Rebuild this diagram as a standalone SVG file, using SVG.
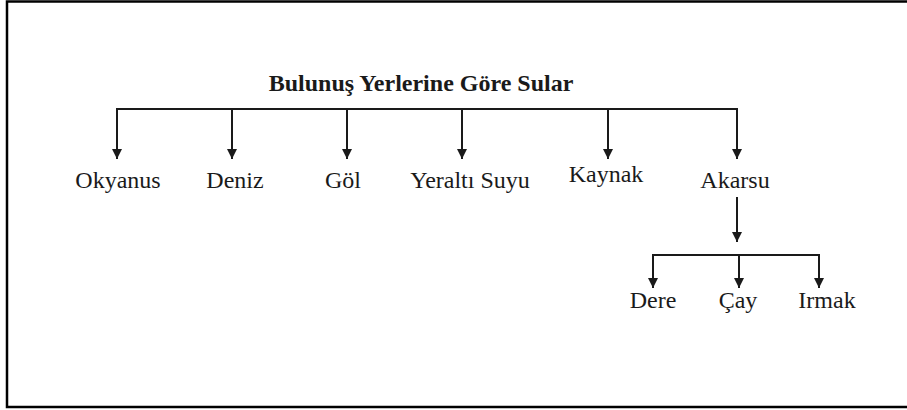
<svg xmlns="http://www.w3.org/2000/svg" width="907" height="410" viewBox="0 0 907 410">
<defs>
<marker id="ah" viewBox="0 0 10 10" refX="10" refY="5" markerWidth="10" markerHeight="10" markerUnits="userSpaceOnUse" orient="auto">
<path d="M0,0 L10,5 L0,10 Z" fill="#1a1a1a"/>
</marker>
<style>
.t{font-family:"Liberation Serif","Times New Roman",serif;font-size:24px;fill:#1a1a1a;text-anchor:middle}
.title{font-weight:bold}
.c{fill:none;stroke:#1a1a1a;stroke-width:2}
.a{marker-end:url(#ah)}
</style>
</defs>
<rect width="907" height="410" fill="#fff"/>
<rect x="7" y="1.5" width="920" height="405.5" fill="none" stroke="#000" stroke-width="2.5"/>
<g id="title"><text class="t title" x="421" y="91">Bulunuş Yerlerine Göre Sular</text></g>
<g id="connectors">
<path class="c" d="M117,159 V109 H737 V159"/>
<path class="c a" d="M117,109 V159"/>
<path class="c a" d="M232,109 V159"/>
<path class="c a" d="M347,109 V159"/>
<path class="c a" d="M462,109 V159"/>
<path class="c a" d="M608,109 V159"/>
<path class="c a" d="M737,109 V159"/>
<path class="c a" d="M737,197 V242"/>
<path class="c" d="M653,288 V255 H819 V288"/>
<path class="c a" d="M653,255 V288"/>
<path class="c a" d="M739,255 V288"/>
<path class="c a" d="M819,255 V288"/>
</g>
<g id="okyanus"><text class="t" x="118" y="188">Okyanus</text></g>
<g id="deniz"><text class="t" x="235" y="188">Deniz</text></g>
<g id="gol"><text class="t" x="343" y="188">Göl</text></g>
<g id="yeralti"><text class="t" x="470" y="188">Yeraltı Suyu</text></g>
<g id="kaynak"><text class="t" x="606" y="182">Kaynak</text></g>
<g id="akarsu"><text class="t" x="735" y="188">Akarsu</text></g>
<g id="dere"><text class="t" x="653" y="308">Dere</text></g>
<g id="cay"><text class="t" x="738" y="308">Çay</text></g>
<g id="irmak"><text class="t" x="827" y="308">Irmak</text></g>
</svg>
